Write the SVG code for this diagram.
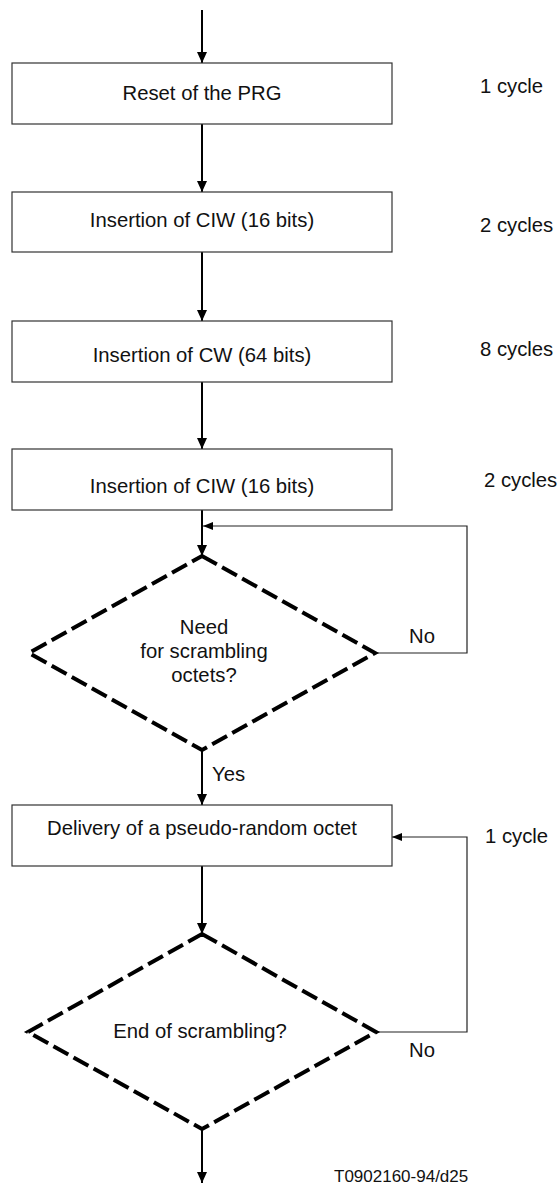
<svg xmlns="http://www.w3.org/2000/svg" width="560" height="1185" viewBox="0 0 560 1185">
<style>
text{font-family:"Liberation Sans",Arial,sans-serif;font-size:20.3px;fill:#111}
.c{text-anchor:middle}
.box{fill:#fff;stroke:#333;stroke-width:1.2}
.dia{fill:none;stroke:#000;stroke-width:4;stroke-dasharray:17 6;stroke-linejoin:miter}
.main{fill:none;stroke:#000;stroke-width:2}
.loop{fill:none;stroke:#222;stroke-width:1.2}
</style>
<defs>
<marker id="ah" markerWidth="11" markerHeight="10" refX="11" refY="5" orient="auto" markerUnits="userSpaceOnUse" viewBox="0 0 11 10">
<path d="M0,0 L11,5 L0,10 Z" fill="#000"/>
</marker>
<marker id="al" markerWidth="10" markerHeight="8" refX="10" refY="4" orient="auto" markerUnits="userSpaceOnUse" viewBox="0 0 10 8">
<path d="M0,0 L10,4 L0,8 Z" fill="#000"/>
</marker>
</defs>
<g id="connectors">
<line class="main" x1="202" y1="10" x2="202" y2="63" marker-end="url(#ah)"/>
<line class="main" x1="202" y1="124" x2="202" y2="192" marker-end="url(#ah)"/>
<line class="main" x1="202" y1="252" x2="202" y2="321" marker-end="url(#ah)"/>
<line class="main" x1="202" y1="382" x2="202" y2="449" marker-end="url(#ah)"/>
<line class="main" x1="202" y1="510" x2="202" y2="556" marker-end="url(#ah)"/>
<line class="main" x1="202" y1="750" x2="202" y2="805" marker-end="url(#ah)"/>
<line class="main" x1="202" y1="866" x2="202" y2="934" marker-end="url(#ah)"/>
<line class="main" x1="202" y1="1129" x2="202" y2="1183" marker-end="url(#ah)"/>
<polyline class="loop" points="375,653 467,653 467,526 203,526" marker-end="url(#al)"/>
<polyline class="loop" points="376,1032 467,1032 467,837 392,837" marker-end="url(#al)"/>
</g>
<g id="n1"><rect class="box" x="12" y="63" width="380" height="61"/><text class="c" x="202" y="100">Reset of the PRG</text></g>
<g id="n2"><rect class="box" x="12" y="192" width="380" height="60"/><text class="c" x="202" y="227">Insertion of CIW (16 bits)</text></g>
<g id="n3"><rect class="box" x="12" y="321" width="380" height="61"/><text class="c" x="202" y="362">Insertion of CW (64 bits)</text></g>
<g id="n4"><rect class="box" x="12" y="449" width="380" height="61"/><text class="c" x="202" y="493">Insertion of CIW (16 bits)</text></g>
<g id="d1"><polygon class="dia" points="202,556 375,653 202,750 29,653"/>
<text class="c" x="204" y="634">Need</text><text class="c" x="204" y="658">for scrambling</text><text class="c" x="204" y="682">octets?</text></g>
<g id="n5"><rect class="box" x="12" y="805" width="380" height="61"/><text class="c" x="202" y="835">Delivery of a pseudo-random octet</text></g>
<g id="d2"><polygon class="dia" points="202,934 376,1032 202,1129 28,1032"/>
<text class="c" x="200" y="1038">End of scrambling?</text></g>
<g id="labels">
<text x="480" y="93">1 cycle</text>
<text x="480" y="232">2 cycles</text>
<text x="480" y="356">8 cycles</text>
<text x="484" y="487">2 cycles</text>
<text x="485" y="843">1 cycle</text>
<text x="409" y="643">No</text>
<text x="409" y="1057">No</text>
<text x="212" y="781">Yes</text>
<text x="334" y="1182" style="font-size:17px">T0902160-94/d25</text>
</g>
</svg>
